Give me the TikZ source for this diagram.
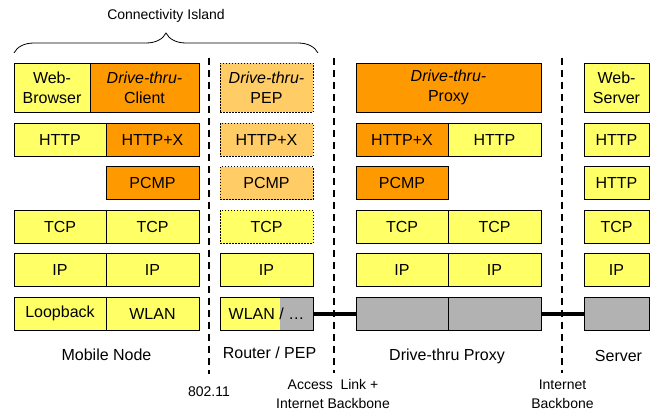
\documentclass[tikz,border=0pt]{standalone}
\usepackage{fontspec}
\setmainfont{Liberation Sans}
\usetikzlibrary{decorations.pathreplacing}
\definecolor{cyel}{HTML}{FFFF66}
\definecolor{corg}{HTML}{FF9900}
\definecolor{clor}{HTML}{FFCC66}
\definecolor{cgry}{HTML}{B2B2B2}
\begin{document}
\begin{tikzpicture}[x=1pt,y=-1pt,
  cell/.style={draw=black, line width=0.8pt, inner sep=0pt, align=center,
    font=\fontsize{16}{20}\selectfont, minimum height=33pt},
  tall/.style={minimum height=49pt},
  yel/.style={cell, fill=cyel},
  org/.style={cell, fill=corg},
  gry/.style={cell, fill=cgry},
  dotb/.style={dash pattern=on 1.5pt off 1.5pt},
  pep/.style={cell, fill=clor, dotb},
  lbl/.style={font=\fontsize{16}{20}\selectfont, inner sep=0pt},
  sml/.style={font=\fontsize{14}{19}\selectfont, inner sep=0pt, align=center},
  dline/.style={line width=1.8pt, dash pattern=on 7pt off 5pt},
  link/.style={line width=4pt}]
\useasboundingbox (0,0) rectangle (655,412);

% Mobile node
\node[yel, tall, minimum width=76pt] (mweb) at (52,87.5) {Web-\\Browser};
\node[org, tall, minimum width=109pt] (mcli) at (144.5,87.5) {\itshape Drive-thru-\\Client};
\node[yel, minimum width=92pt] (mhttp) at (60,139.5) {HTTP};
\node[org, minimum width=93pt] (mhttpx) at (152.5,139.5) {HTTP+X};
\node[org, minimum width=93pt] (mpcmp) at (152.5,183) {PCMP};
\node[yel, minimum width=92pt] (mtcp1) at (60,226.5) {TCP};
\node[yel, minimum width=93pt] (mtcp2) at (152.5,226.5) {TCP};
\node[yel, minimum width=92pt] (mip1) at (60,270) {IP};
\node[yel, minimum width=93pt] (mip2) at (152.5,270) {IP};
\node[yel, minimum width=92pt] (mlo) at (60,313.5) {Loopback};
\node[yel, minimum width=93pt] (mwlan) at (152.5,313.5) {WLAN};

% Router / PEP
\node[pep, tall, minimum width=93pt] (rpep) at (266.5,87.5) {\itshape Drive-thru-\\PEP};
\node[pep, minimum width=93pt] (rhttp) at (266.5,139.5) {HTTP+X};
\node[pep, minimum width=93pt] (rpcmp) at (266.5,183) {PCMP};
\node[yel, dotb, minimum width=93pt] (rtcp) at (266.5,226.5) {TCP};
\node[yel, minimum width=93pt] (rip) at (266.5,270) {IP};
\node[yel, minimum width=93pt,
  path picture={\fill[cgry] ([xshift=60pt]path picture bounding box.south west)
    rectangle (path picture bounding box.north east);}] (rwlan) at (266.5,313.5) {WLAN / …};

% Drive-thru proxy
\node[org, tall, minimum width=185pt] (pdtp) at (448.5,87.5) {\itshape Drive-thru-\\Proxy};
\node[org, minimum width=92pt] (phttpx) at (402,139.5) {HTTP+X};
\node[yel, minimum width=93pt] (phttp) at (494.5,139.5) {HTTP};
\node[org, minimum width=92pt] (ppcmp) at (402,183) {PCMP};
\node[yel, minimum width=92pt] (ptcp1) at (402,226.5) {TCP};
\node[yel, minimum width=93pt] (ptcp2) at (494.5,226.5) {TCP};
\node[yel, minimum width=92pt] (pip1) at (402,270) {IP};
\node[yel, minimum width=93pt] (pip2) at (494.5,270) {IP};
\node[gry, minimum width=92pt] (pg1) at (402,313.5) {};
\node[gry, minimum width=93pt] (pg2) at (494.5,313.5) {};

% Server
\node[yel, tall, minimum width=65pt] (sweb) at (616.5,87.5) {Web-\\Server};
\node[yel, minimum width=65pt] (shttp1) at (616.5,139.5) {HTTP};
\node[yel, minimum width=65pt] (shttp2) at (616.5,183) {HTTP};
\node[yel, minimum width=65pt] (stcp) at (616.5,226.5) {TCP};
\node[yel, minimum width=65pt] (sip) at (616.5,270) {IP};
\node[gry, minimum width=65pt] (sg) at (616.5,313.5) {};

% dashed separators
\coordinate (d1t) at (209,58); \coordinate (d1b) at (209,374);
\coordinate (d2t) at (334,58); \coordinate (d2b) at (334,373);
\coordinate (d3t) at (562,58); \coordinate (d3b) at (562,373);
\draw[dline] (d1t) -- (d1b);
\draw[dline] (d2t) -- (d2b);
\draw[dline] (d3t) -- (d3b);

% links
\draw[link] (rwlan.east) -- (pg1.west);
\draw[link] (pg2.east) -- (sg.west);

% brace
\coordinate (bl) at (14,53); \coordinate (br) at (318,53);
\draw[decorate, decoration={brace, amplitude=20pt}, line width=0.8pt] (bl) -- (br);
\node[sml] (lci) at (166,16) {Connectivity Island};

% labels
\node[lbl] (lmn) at (106.5,355) {Mobile Node};
\node[lbl] (lrp) at (269.5,353) {Router / PEP};
\node[lbl] (ldp) at (447,356) {Drive-thru Proxy};
\node[lbl] (lsv) at (618.5,356) {Server};
\node[sml] (l80) at (209,392) {802.11};
\node[sml] (lacc) at (333,394) {Access\ \ Link +\\Internet Backbone};
\node[sml] (lib) at (562.5,394) {Internet\\Backbone};
\end{tikzpicture}
\end{document}
